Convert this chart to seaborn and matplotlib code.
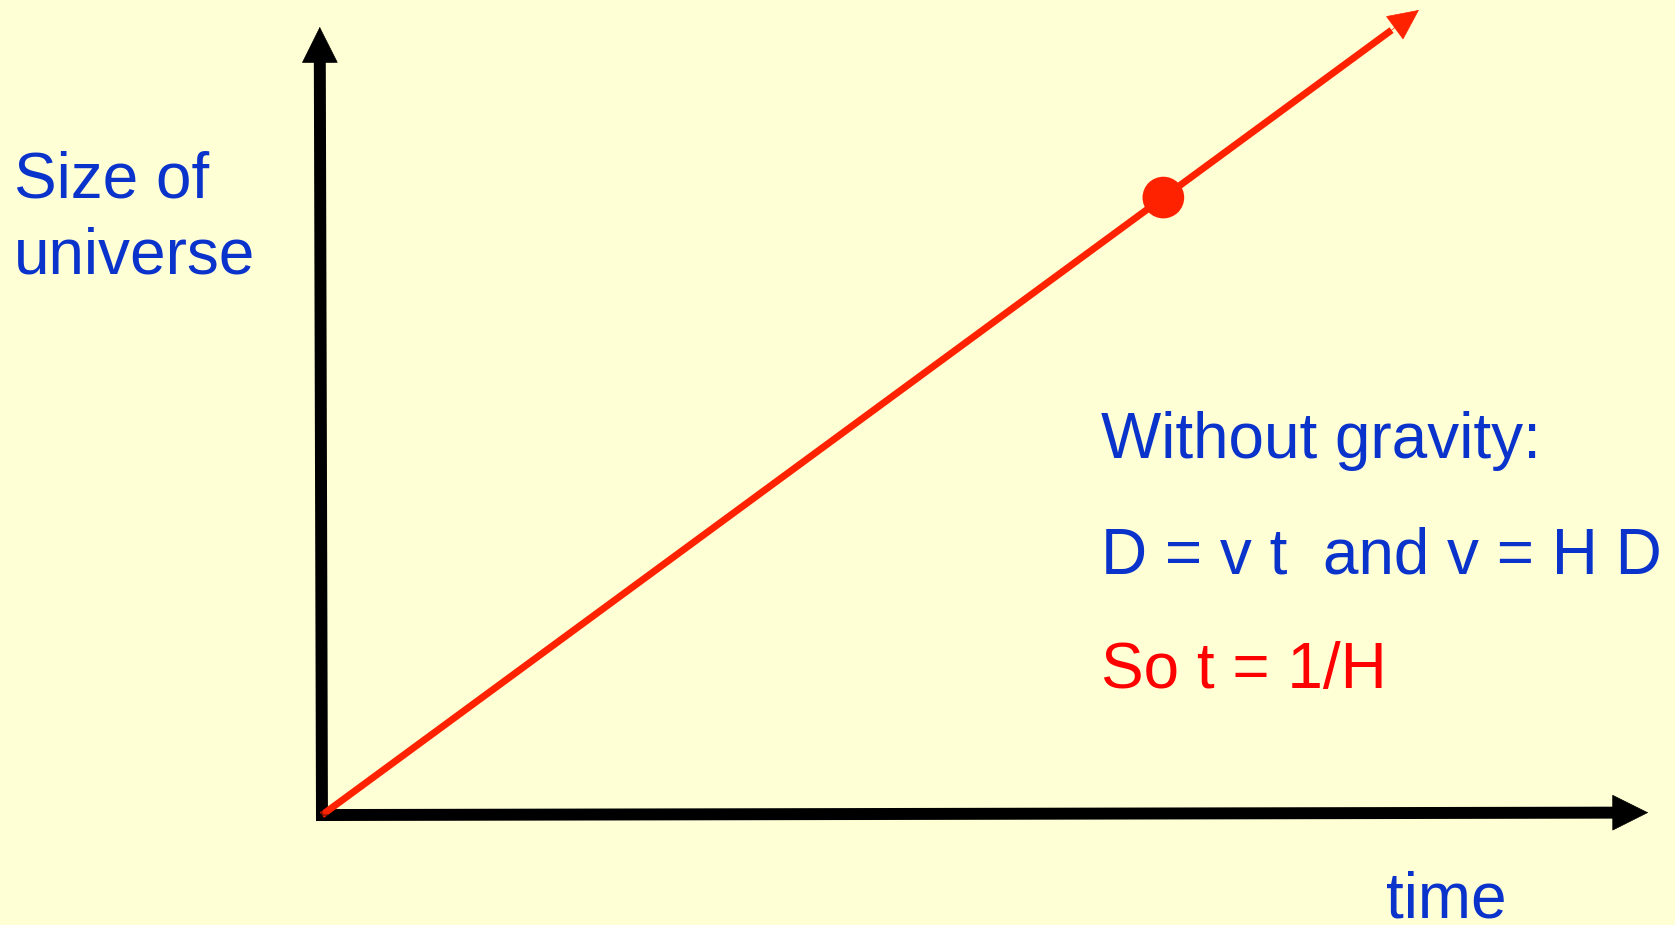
import numpy as np
import seaborn as sns
import matplotlib.pyplot as plt

# expansion without gravity: size grows linearly with time
time = [0.0, 1.0]
size = [0.0, 1.0]
# "today" on the line
now_time = [0.767]
now_size = [0.767]

# axis arrow tips (data units)
y_axis_tip = 0.979
x_axis_tip = 1.209

label_x = "time"
eq_lines = ["Without gravity:", "D = v t  and v = H D", "So t = 1/H"]

bg = "#FFFFD6"
blue = "#0A33CC"
red_txt = "#FF0000"
red_line = "#FF2200"

sns.set_theme(style="white")
plt.rcParams['font.family'] = ['Liberation Sans', 'DejaVu Sans']

fig = plt.figure(figsize=(16.75, 9.25), dpi=100)
fig.patch.set_facecolor(bg)
ax = fig.add_axes([0, 0, 1, 1])
ax.set_facecolor(bg)
ax.set_xlim(-0.2935, 1.2334)
ax.set_ylim(-0.1366, 1.0124)
ax.axis("off")

# black axes with arrow heads
ax.plot([0, -0.002], [0, y_axis_tip - 0.03], color="black", lw=8.6,
        solid_capstyle="projecting")
ax.plot([0, x_axis_tip - 0.02], [0, 0.003], color="black", lw=8.6,
        solid_capstyle="projecting")
ax.annotate("", xy=(-0.002, y_axis_tip), xytext=(0, 0),
            arrowprops=dict(arrowstyle="-|>,head_length=1,head_width=0.5",
                            mutation_scale=25, lw=0.5, color="black",
                            shrinkA=0, shrinkB=0))
ax.annotate("", xy=(x_axis_tip, 0.003), xytext=(0, 0),
            arrowprops=dict(arrowstyle="-|>,head_length=1,head_width=0.5",
                            mutation_scale=25, lw=0.5, color="black",
                            shrinkA=0, shrinkB=0))

# red line, arrow head and dot
sns.lineplot(x=np.array(time) * 0.975, y=np.array(size) * 0.975, color=red_line,
             lw=5, ax=ax, solid_capstyle="butt")
ax.annotate("", xy=(time[1], size[1]), xytext=(0.9, 0.9),
            arrowprops=dict(arrowstyle="-|>,head_length=1.05,head_width=0.5",
                            mutation_scale=20, lw=0.5, color=red_line,
                            shrinkA=0, shrinkB=0))
sns.scatterplot(x=now_time, y=now_size, s=900, color=red_line, edgecolor="none",
                ax=ax, zorder=5)

# texts (pixel positions -> figure fraction)
def px(x, y):
    return x / 1675, 1 - y / 925

fs = 46
ax.text(*px(14, 198), "Size of", transform=fig.transFigure, color=blue,
        fontsize=fs, va="baseline")
ax.text(*px(14, 273), "universe", transform=fig.transFigure, color=blue,
        fontsize=fs, va="baseline")
ax.text(*px(1386, 918), label_x, transform=fig.transFigure, color=blue,
        fontsize=fs, va="baseline")
for txt, base, col in zip(eq_lines, [458, 573, 688], [blue, blue, red_txt]):
    ax.text(*px(1101, base), txt, transform=fig.transFigure, color=col,
            fontsize=fs, va="baseline")

plt.savefig("out.png", dpi=100, facecolor=bg)
